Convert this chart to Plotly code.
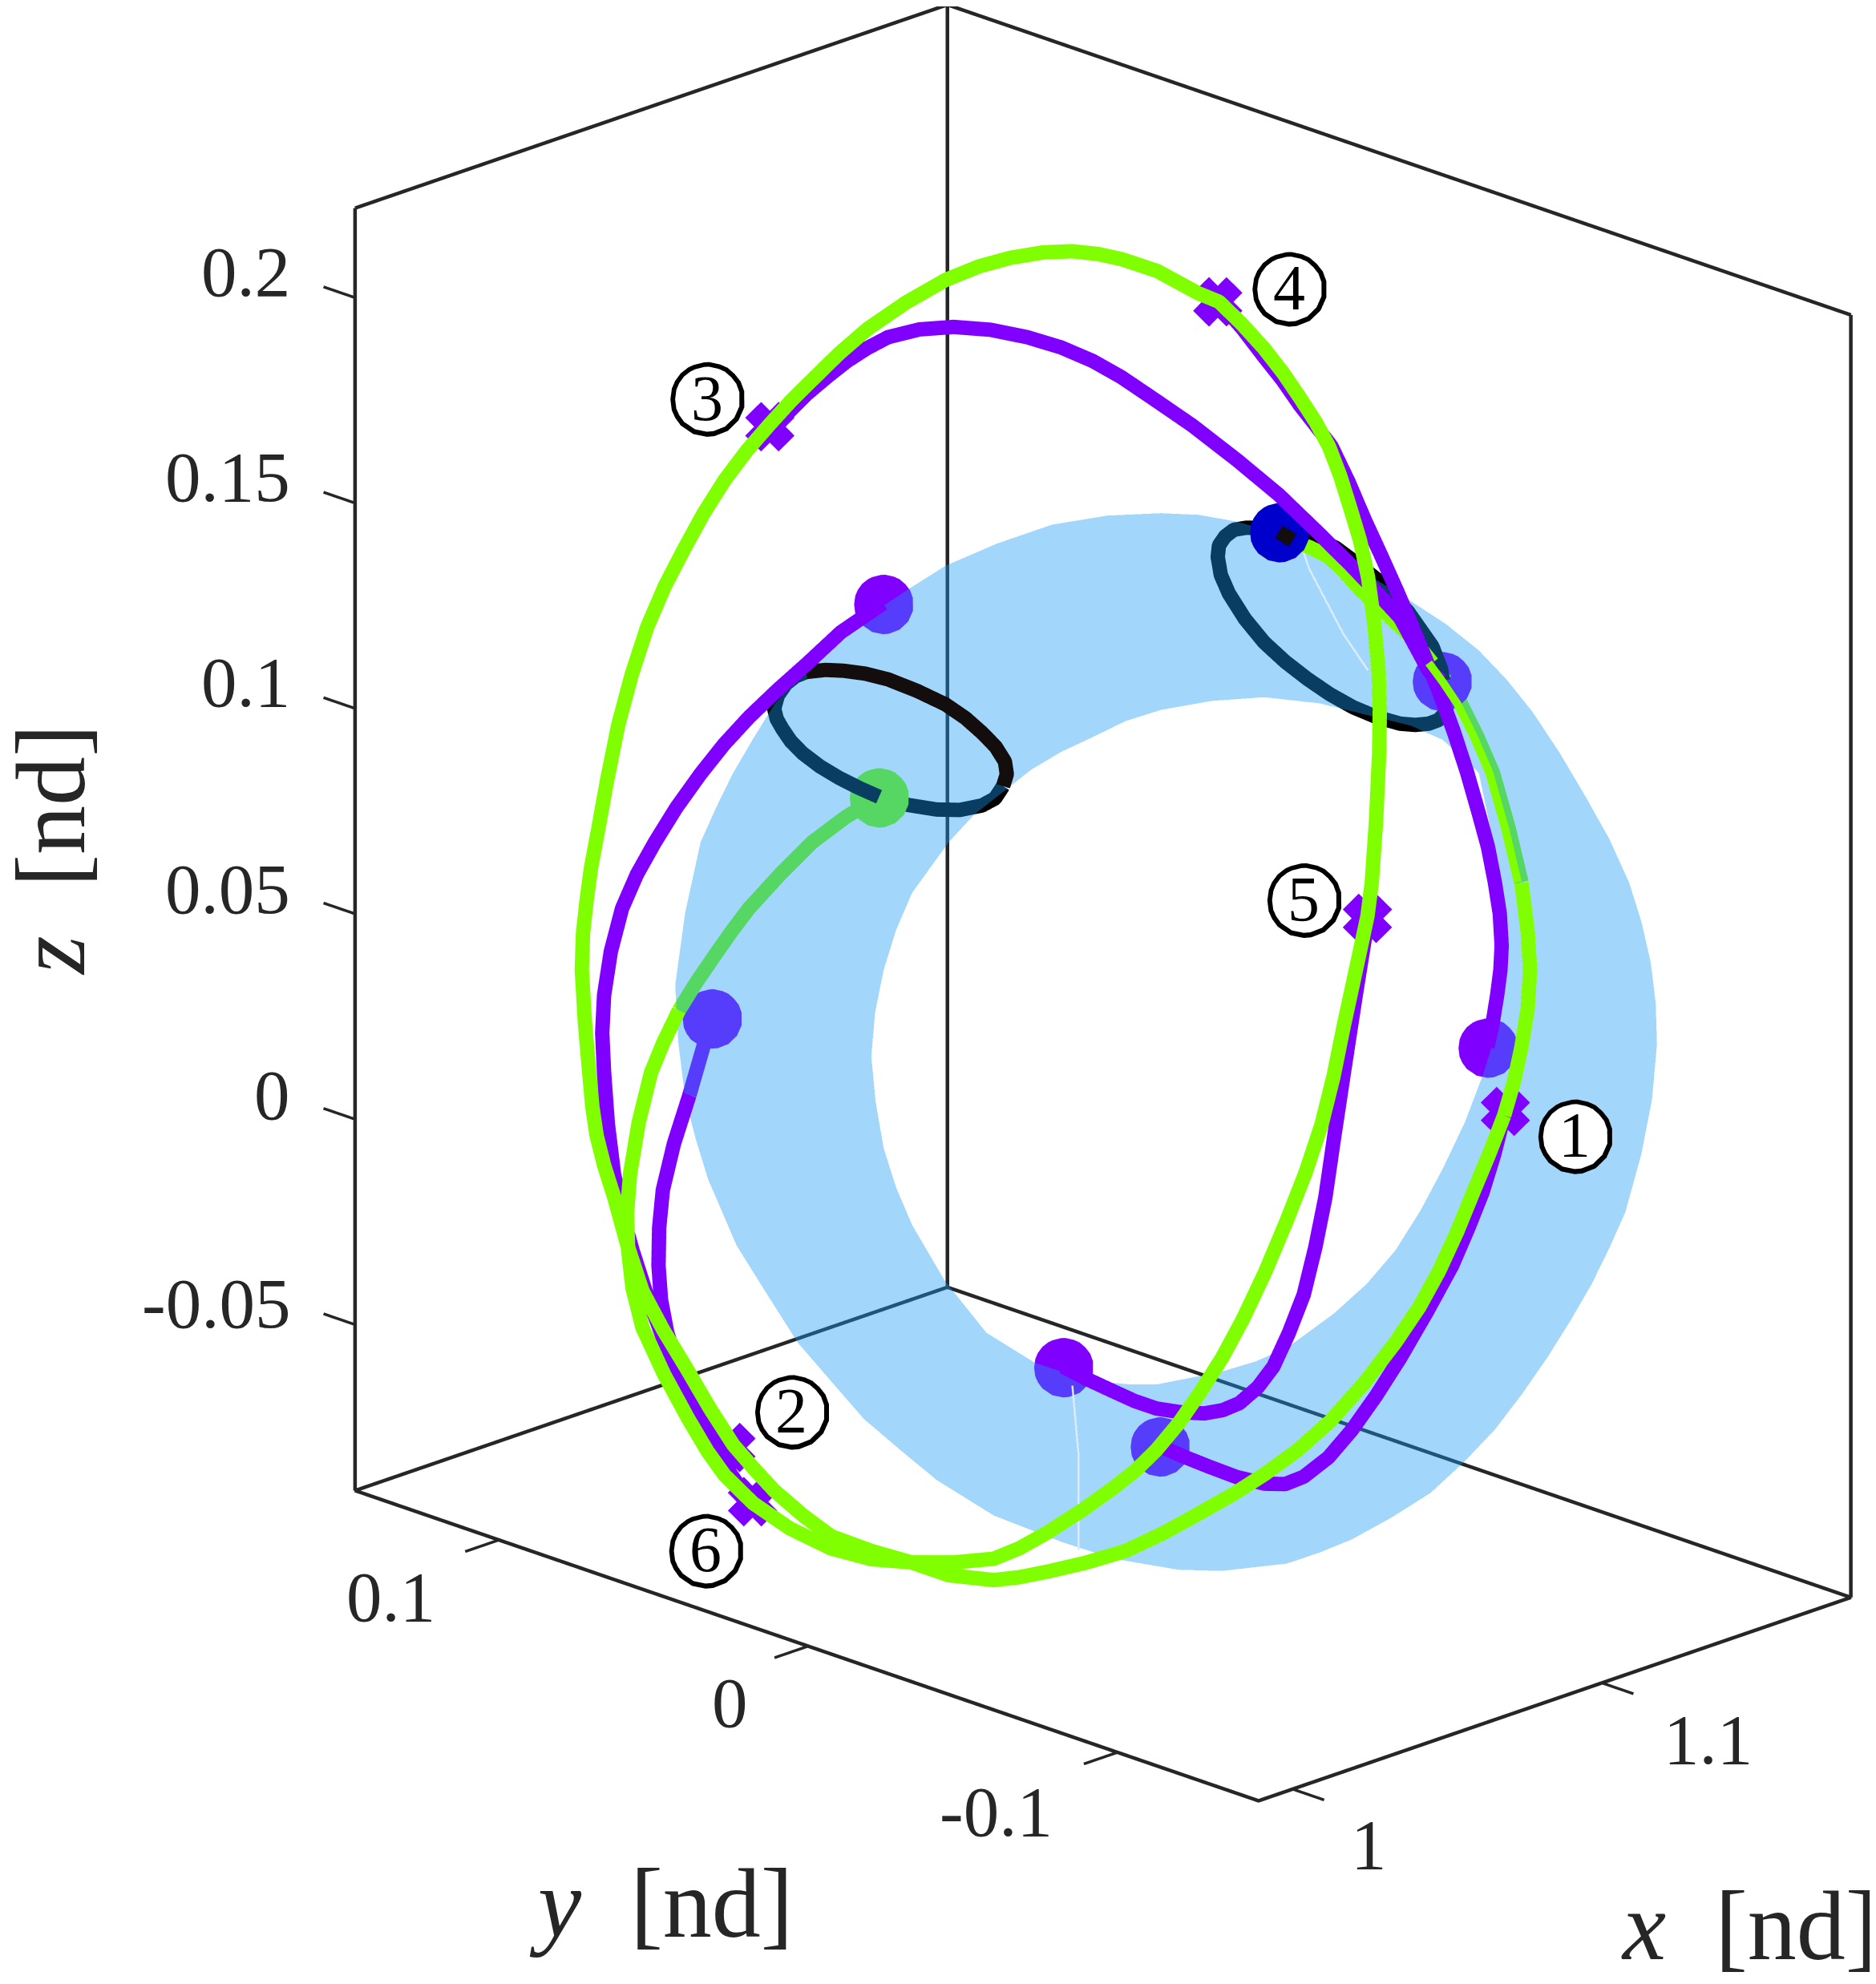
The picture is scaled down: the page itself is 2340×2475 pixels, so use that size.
import plotly.graph_objects as go

# ---- axis box limits and ticks
x_lim = [0.989, 1.1805]
y_lim = [-0.1456, 0.1465]
z_lim = [-0.0904, 0.2218]
x_ticks = [1.0, 1.1]
y_ticks = [0.1, 0.0, -0.1]
z_ticks = [-0.05, 0.0, 0.05, 0.1, 0.15, 0.2]
x_tick_labels = ["1", "1.1"]
y_tick_labels = ["0.1", "0", "-0.1"]
z_tick_labels = ["-0.05", "0", "0.05", "0.1", "0.15", "0.2"]
x_tick_len = 0.0102
y_tick_len = 0.0109
z_tick_len = 0.0102

# tick label anchor points
xl_x = [1.0851, 1.1399]; xl_y = [-0.0851, -0.1399]; xl_z = [-0.1416, -0.1159]
yl_x = [0.927, 0.9818, 1.0249]; yl_y = [0.073, 0.0182, -0.0249]; yl_z = [-0.0812, -0.1070, -0.1335]
zl_x = [0.911] * 6; zl_y = [0.089] * 6; zl_z = [-0.0098, 0.0409, 0.0910, 0.1415, 0.1914, 0.2414]

# ---- green transfer, cross 1 through to the final ring
green_x = [1.1270,1.1246,1.1220,1.1194,1.1165,1.1133,1.1094,1.1044,1.0989,1.0936,1.0883,1.0832,1.0779,1.0720,1.0658,1.0593,1.0533,1.0486,1.0445,1.0372,1.0312,1.0247,1.0182,1.0137,1.0090,1.0058,1.0024,0.9986,0.9948,0.9911,0.9877,0.9852,0.9832,0.9815,0.9803,0.9796,0.9791,0.9784,0.9779,0.9781,0.9787,0.9794,0.9805,0.9820,0.9838,0.9860,0.9885,0.9913,0.9944,0.9976,1.0010,1.0046,1.0083,1.0118,1.0155,1.0195,1.0241,1.0303,1.0367,1.0421,1.0472,1.0524,1.0572,1.0614,1.0651,1.0709,1.0775,1.0809,1.0844,1.0882,1.0913,1.0940,1.0965,1.0987,1.1005,1.1021,1.1037,1.1050,1.1060,1.1067,1.1069,1.1068,1.1063,1.1056,1.1049,1.1031,1.1010,1.0994,1.0975,1.0949,1.0918,1.0884,1.0848,1.0814,1.0779,1.0744,1.0708,1.0675,1.0638,1.0587,1.0533,1.0487,1.0445,1.0380,1.0313,1.0247,1.0182,1.0115,1.0056,1.0010,0.9982,0.9951,0.9912,0.9877,0.9861,0.9854,0.9852,0.9857,0.9871,0.9891,0.9911,0.9936]
green_y = [-0.0870,-0.0846,-0.0820,-0.0794,-0.0765,-0.0733,-0.0694,-0.0644,-0.0589,-0.0536,-0.0483,-0.0432,-0.0379,-0.0320,-0.0258,-0.0193,-0.0133,-0.0086,-0.0045,0.0028,0.0088,0.0153,0.0218,0.0263,0.0310,0.0342,0.0376,0.0414,0.0452,0.0489,0.0523,0.0548,0.0568,0.0585,0.0597,0.0604,0.0609,0.0616,0.0621,0.0619,0.0613,0.0606,0.0595,0.0580,0.0562,0.0540,0.0515,0.0487,0.0456,0.0424,0.0390,0.0354,0.0317,0.0282,0.0245,0.0205,0.0159,0.0097,0.0033,-0.0021,-0.0072,-0.0124,-0.0172,-0.0214,-0.0251,-0.0309,-0.0375,-0.0409,-0.0444,-0.0482,-0.0513,-0.0540,-0.0565,-0.0587,-0.0605,-0.0621,-0.0637,-0.0650,-0.0660,-0.0667,-0.0669,-0.0668,-0.0663,-0.0656,-0.0649,-0.0631,-0.0610,-0.0594,-0.0575,-0.0549,-0.0518,-0.0484,-0.0448,-0.0414,-0.0379,-0.0344,-0.0308,-0.0275,-0.0238,-0.0187,-0.0133,-0.0087,-0.0045,0.0020,0.0087,0.0153,0.0218,0.0285,0.0344,0.0390,0.0418,0.0449,0.0488,0.0523,0.0539,0.0546,0.0548,0.0543,0.0529,0.0509,0.0489,0.0464]
green_z = [0.0256,0.0163,0.0069,-0.0027,-0.0122,-0.0210,-0.0297,-0.0395,-0.0488,-0.0559,-0.0617,-0.0666,-0.0711,-0.0760,-0.0804,-0.0833,-0.0854,-0.0868,-0.0875,-0.0863,-0.0832,-0.0804,-0.0768,-0.0718,-0.0657,-0.0605,-0.0546,-0.0457,-0.0359,-0.0267,-0.0171,-0.0056,0.0054,0.0135,0.0207,0.0278,0.0361,0.0484,0.0610,0.0701,0.0782,0.0860,0.0948,0.1073,0.1207,0.1331,0.1446,0.1544,0.1634,0.1722,0.1803,0.1875,0.1939,0.1997,0.2052,0.2111,0.2171,0.2235,0.2290,0.2323,0.2344,0.2357,0.2360,0.2353,0.2341,0.2312,0.2258,0.2237,0.2186,0.2123,0.2063,0.2003,0.1945,0.1884,0.1813,0.1736,0.1656,0.1566,0.1454,0.1339,0.1245,0.1139,0.0974,0.0823,0.0741,0.0615,0.0469,0.0350,0.0235,0.0117,-0.0002,-0.0124,-0.0239,-0.0334,-0.0417,-0.0493,-0.0558,-0.0607,-0.0651,-0.0706,-0.0758,-0.0797,-0.0823,-0.0832,-0.0832,-0.0824,-0.0798,-0.0749,-0.0688,-0.0620,-0.0561,-0.0482,-0.0374,-0.0260,-0.0164,-0.0073,0.0016,0.0113,0.0239,0.0361,0.0434,0.0512]

# green end, seen through the blue band
green_end_x = [1.0336,1.0364,1.0393,1.0421,1.0449,1.0500,1.0551,1.0605,1.0659]
green_end_y = [0.0864,0.0836,0.0807,0.0779,0.0751,0.0700,0.0649,0.0595,0.0541]
green_end_z = [0.0305,0.0373,0.0437,0.0497,0.0553,0.0637,0.0714,0.0775,0.0825]

# green start, from the blue dot to cross 1
green_a1_x = [1.1128,1.1157,1.1187,1.1212,1.1238,1.1273,1.1308,1.1332,1.1354]
green_a1_y = [-0.0328,-0.0357,-0.0387,-0.0412,-0.0438,-0.0473,-0.0508,-0.0532,-0.0554]
green_a1_z = [0.1552,0.1535,0.1512,0.1475,0.1432,0.1383,0.1334,0.1295,0.1254]
green_a2_x = [1.1554,1.1577,1.1600,1.1627,1.1652,1.1677,1.1698]
green_a2_y = [-0.0354,-0.0377,-0.0400,-0.0427,-0.0452,-0.0477,-0.0498]
green_a2_z = [0.1151,0.1104,0.1052,0.0970,0.0883,0.0750,0.0617]
# bright sliver lying over the muted part
green_a2b_x = [1.1148,1.1171,1.1194,1.1221,1.1246,1.1271,1.1292]
green_a2b_y = [-0.0748,-0.0771,-0.0794,-0.0821,-0.0846,-0.0871,-0.0892]
green_a2b_z = [0.1358,0.1311,0.1259,0.1177,0.1090,0.0957,0.0824]
green_a3_x = [1.1298,1.1308,1.1312,1.1308,1.1298,1.1286,1.1270]
green_a3_y = [-0.0898,-0.0908,-0.0912,-0.0908,-0.0898,-0.0886,-0.0870]
green_a3_z = [0.0823,0.0705,0.0610,0.0515,0.0423,0.0339,0.0256]

# ---- purple arcs (None separates arcs)
purple_x = [1.0366,1.0298,1.0243,1.0196,1.0150,1.0109,1.0071,1.0032,0.9997,0.9968,0.9944,0.9926,0.9915,0.9912,0.9915,0.9921,0.9931,0.9944,0.9961,0.9984,1.0010,1.0036,1.0063,1.0091,1.0120, None,
            1.0053,1.0028,1.0010,1.0004,1.0003,1.0007,1.0017,1.0038,1.0063,1.0087,1.0110,1.0133,1.0156, None,
            1.0657,1.0698,1.0738,1.0773,1.0808,1.0847,1.0885,1.0915,1.0942,1.0972,1.0997,1.1022,1.1046,1.1065,1.1081,1.1095,1.1110,1.1129,1.1149, None,
            1.0813,1.0852,1.0892,1.0938,1.0983,1.1016,1.1046,1.1086,1.1124,1.1163,1.1202,1.1245,1.1286,1.1312,1.1335,1.1354,1.1370, None,
            1.1343,1.1352,1.1359,1.1364,1.1366,1.1363,1.1355,1.1344,1.1329,1.1310,1.1289,1.1267,1.1243,1.1220,1.1196,1.1171,1.1145,1.1119,1.1091,1.1066,1.1040,1.1012,1.0982,1.0947,1.0909, None,
            1.1269,1.1248,1.1202,1.1164,1.1121,1.1066,1.1006,1.0938,1.0866,1.0808,1.0751,1.0705,1.0654,1.0599,1.0540,1.0480,1.0425,1.0374,1.0340,1.0308,1.0276,1.0243,1.0202,1.0183]
purple_y = [0.0234,0.0302,0.0357,0.0404,0.0450,0.0491,0.0529,0.0568,0.0603,0.0632,0.0656,0.0674,0.0685,0.0688,0.0685,0.0679,0.0669,0.0656,0.0639,0.0616,0.0590,0.0564,0.0537,0.0509,0.0480, None,
            0.0547,0.0572,0.0590,0.0596,0.0597,0.0593,0.0583,0.0562,0.0537,0.0513,0.0490,0.0467,0.0444, None,
            -0.0057,-0.0098,-0.0138,-0.0173,-0.0208,-0.0247,-0.0285,-0.0315,-0.0342,-0.0372,-0.0397,-0.0422,-0.0446,-0.0465,-0.0481,-0.0495,-0.0510,-0.0529,-0.0549, None,
            -0.0213,-0.0252,-0.0292,-0.0338,-0.0383,-0.0416,-0.0446,-0.0486,-0.0524,-0.0563,-0.0602,-0.0645,-0.0686,-0.0712,-0.0735,-0.0754,-0.0770, None,
            -0.0743,-0.0752,-0.0759,-0.0764,-0.0766,-0.0763,-0.0755,-0.0744,-0.0729,-0.0710,-0.0689,-0.0667,-0.0643,-0.0620,-0.0596,-0.0571,-0.0545,-0.0519,-0.0491,-0.0466,-0.0440,-0.0412,-0.0382,-0.0347,-0.0309, None,
            -0.0669,-0.0648,-0.0602,-0.0564,-0.0521,-0.0466,-0.0406,-0.0338,-0.0266,-0.0208,-0.0151,-0.0105,-0.0054,0.0001,0.0060,0.0120,0.0175,0.0226,0.0260,0.0292,0.0324,0.0357,0.0398,0.0417]
purple_z = [0.1451,0.1381,0.1304,0.1241,0.1175,0.1108,0.1036,0.0954,0.0869,0.0791,0.0708,0.0604,0.0497,0.0405,0.0309,0.0185,0.0062,-0.0033,-0.0124,-0.0232,-0.0336,-0.0423,-0.0496,-0.0552,-0.0598, None,
            0.0254,0.0136,0.0023,-0.0070,-0.0161,-0.0244,-0.0324,-0.0420,-0.0509,-0.0582,-0.0647,-0.0697,-0.0739, None,
            -0.0407,-0.0439,-0.0467,-0.0491,-0.0509,-0.0518,-0.0521,-0.0513,-0.0496,-0.0457,-0.0407,-0.0325,-0.0232,-0.0115,0.0005,0.0150,0.0300,0.0487,0.0675, None,
            -0.0600,-0.0626,-0.0650,-0.0676,-0.0692,-0.0693,-0.0675,-0.0628,-0.0561,-0.0478,-0.0386,-0.0274,-0.0161,-0.0070,0.0017,0.0110,0.0205, None,
            0.0371,0.0435,0.0500,0.0559,0.0618,0.0695,0.0772,0.0857,0.0940,0.1040,0.1137,0.1227,0.1316,0.1400,0.1484,0.1568,0.1653,0.1745,0.1833,0.1883,0.1933,0.1994,0.2051,0.2120,0.2185, None,
            0.1263,0.1287,0.1416,0.1478,0.1546,0.1628,0.1715,0.1800,0.1884,0.1944,0.2002,0.2041,0.2074,0.2099,0.2117,0.2124,0.2118,0.2099,0.2072,0.2041,0.2003,0.1961,0.1899,0.1887]
# purple start seen through the band
purple_end_x = [1.0389, 1.0353]
purple_end_y = [0.0811, 0.0847]
purple_end_z = [0.0287, 0.0099]

# ---- dots
dot_x = [1.0666, 1.0389, 1.0957, 1.1113, 1.1569, 1.1643]
dot_y = [0.0534, 0.0811, 0.0243, 0.0087, -0.0369, -0.0443]
dot_z = [0.1296, 0.0287, -0.0562, -0.0755, 0.1108, 0.0216]
green_dot = [1.0659, 0.0541, 0.0825]
blue_dot = [1.1106, -0.0306, 0.1574]

# ---- crosses
cross_x = [1.1322, 1.0070, 1.0133, 1.0857, 1.1099, 1.0105]
cross_y = [-0.0822, 0.0430, 0.0367, -0.0357, -0.0599, 0.0395]
cross_z = [0.0240, -0.0578, 0.1907, 0.2211, 0.0710, -0.0710]

# ---- circled labels: black disc, white disc just in front of it
mark_text = ["1", "2", "3", "4", "5", "6"]
mark_x = [1.1184, 0.9918, 0.9781, 1.0722, 1.0746, 0.9779]
mark_y = [-0.1184, 0.0082, 0.0219, -0.0722, -0.0746, 0.0221]
mark_z = [0.0311, -0.0360, 0.2106, 0.2374, 0.0886, -0.0698]
mark_face_x = [1.1134, 0.9868, 0.9731, 1.0672, 1.0696, 0.9729]
mark_face_y = [-0.1234, 0.0032, 0.0169, -0.0772, -0.0796, 0.0171]
mark_face_z = [0.0337, -0.0334, 0.2132, 0.2400, 0.0912, -0.0672]

# ---- black rings
ring_front_x = [1.0242,1.0273,1.0302,1.0337,1.0374,1.0421,1.0467,1.0499,1.0526,1.0548,1.0563,1.0566,1.0560, None, 1.1006,1.1028]
ring_front_y = [0.0358,0.0327,0.0298,0.0263,0.0226,0.0179,0.0133,0.0101,0.0074,0.0052,0.0037,0.0034,0.0040, None, -0.0406,-0.0428]
ring_front_z = [0.1284,0.1289,0.1287,0.1280,0.1266,0.1238,0.1205,0.1172,0.1136,0.1102,0.1066,0.1035,0.1006, None, 0.1625,0.1604]
ring_back_x = [1.0860,1.0847,1.0826,1.0790,1.0753,1.0707,1.0661,1.0628,1.0595,1.0564,1.0536,1.0517,1.0503,1.0494,1.0490,1.0496,1.0509,1.0524,1.0542, None,
               1.1306,1.1280,1.1253,1.1233,1.1219,1.1209,1.1207,1.1212,1.1225,1.1251,1.1282,1.1316,1.1352,1.1388,1.1426,1.1464,1.1502,1.1526,1.1548,1.1564,1.1574,1.1579,1.1574,1.1568,1.1554,1.1514,1.1467,1.1432,1.1398,1.1365,1.1334,1.1306]
ring_back_y = [0.0340,0.0353,0.0374,0.0410,0.0447,0.0493,0.0539,0.0572,0.0605,0.0636,0.0664,0.0683,0.0697,0.0706,0.0710,0.0704,0.0691,0.0676,0.0658, None,
               -0.0106,-0.0080,-0.0053,-0.0033,-0.0019,-0.0009,-0.0007,-0.0012,-0.0025,-0.0051,-0.0082,-0.0116,-0.0152,-0.0188,-0.0226,-0.0264,-0.0302,-0.0326,-0.0348,-0.0364,-0.0374,-0.0379,-0.0374,-0.0368,-0.0354,-0.0314,-0.0267,-0.0232,-0.0198,-0.0165,-0.0134,-0.0106]
ring_back_z = [0.0851,0.0821,0.0804,0.0793,0.0794,0.0805,0.0824,0.0846,0.0871,0.0899,0.0931,0.0960,0.0991,0.1015,0.1040,0.1072,0.1100,0.1118,0.1129, None,
               0.1470,0.1480,0.1480,0.1475,0.1459,0.1437,0.1409,0.1365,0.1320,0.1258,0.1201,0.1154,0.1112,0.1075,0.1043,0.1019,0.1003,0.1000,0.1003,0.1012,0.1028,0.1053,0.1082,0.1136,0.1191,0.1277,0.1351,0.1393,0.1431,0.1455,0.1470,0.1470]

# ---- blue band, outer and inner edges
band_outer_x = [1.0965,1.1026,1.1086,1.1150,1.1215,1.1294,1.1369,1.1426,1.1479,1.1524,1.1566,1.1610,1.1652,1.1690,1.1722,1.1742,1.1757,1.1765,1.1767,1.1759,1.1742,1.1716,1.1690,1.1661,1.1627,1.1590,1.1549,1.1505,1.1455,1.1401,1.1339,1.1274,1.1222,1.1169,1.1063,1.0993,1.0888,1.0804,1.0695,1.0603,1.0545,1.0485,1.0433,1.0378,1.0327,1.0279,1.0233,1.0213,1.0196,1.0185,1.0180,1.0196,1.0221,1.0246,1.0273,1.0306,1.0340,1.0388,1.0438,1.0497,1.0556,1.0617,1.0700,1.0789,1.0878]
band_outer_y = [-0.0065,-0.0126,-0.0186,-0.0250,-0.0315,-0.0394,-0.0469,-0.0526,-0.0579,-0.0624,-0.0666,-0.0710,-0.0752,-0.0790,-0.0822,-0.0842,-0.0857,-0.0865,-0.0867,-0.0859,-0.0842,-0.0816,-0.0790,-0.0761,-0.0727,-0.0690,-0.0649,-0.0605,-0.0555,-0.0501,-0.0439,-0.0374,-0.0322,-0.0269,-0.0163,-0.0093,0.0012,0.0096,0.0205,0.0297,0.0355,0.0415,0.0467,0.0522,0.0573,0.0621,0.0667,0.0687,0.0704,0.0715,0.0720,0.0704,0.0679,0.0654,0.0627,0.0594,0.0560,0.0512,0.0462,0.0403,0.0344,0.0283,0.0200,0.0111,0.0022]
band_outer_z = [0.1593,0.1589,0.1573,0.1546,0.1508,0.1449,0.1379,0.1323,0.1259,0.1188,0.1109,0.1009,0.0902,0.0800,0.0694,0.0598,0.0499,0.0400,0.0300,0.0166,0.0034,-0.0108,-0.0196,-0.0285,-0.0373,-0.0462,-0.0551,-0.0638,-0.0717,-0.0792,-0.0851,-0.0905,-0.0937,-0.0964,-0.0982,-0.0979,-0.0952,-0.0911,-0.0847,-0.0761,-0.0689,-0.0612,-0.0522,-0.0426,-0.0305,-0.0189,-0.0028,0.0070,0.0170,0.0305,0.0444,0.0620,0.0792,0.0876,0.0959,0.1044,0.1127,0.1208,0.1284,0.1348,0.1407,0.1465,0.1519,0.1565,0.1587]
band_inner_x = [1.0965,1.1047,1.1132,1.1222,1.1306,1.1369,1.1421,1.1479,1.1498,1.1507,1.1518,1.1522,1.1511,1.1485,1.1457,1.1421,1.1385,1.1344,1.1298,1.1245,1.1169,1.1118,1.1063,1.0958,1.0916,1.0873,1.0817,1.0761,1.0683,1.0616,1.0563,1.0537,1.0517,1.0504,1.0497,1.0503,1.0517,1.0537,1.0563,1.0622,1.0663,1.0756,1.0804,1.0855,1.0908]
band_inner_y = [-0.0065,-0.0147,-0.0232,-0.0322,-0.0406,-0.0469,-0.0521,-0.0579,-0.0598,-0.0607,-0.0618,-0.0622,-0.0611,-0.0585,-0.0557,-0.0521,-0.0485,-0.0444,-0.0398,-0.0345,-0.0269,-0.0218,-0.0163,-0.0058,-0.0016,0.0027,0.0083,0.0139,0.0217,0.0284,0.0337,0.0363,0.0383,0.0396,0.0403,0.0397,0.0383,0.0363,0.0337,0.0278,0.0237,0.0144,0.0096,0.0045,-0.0008]
band_inner_z = [0.1114,0.1136,0.1145,0.1130,0.1099,0.1076,0.1041,0.0961,0.0825,0.0694,0.0595,0.0499,0.0346,0.0223,0.0112,-0.0002,-0.0104,-0.0202,-0.0283,-0.0355,-0.0439,-0.0472,-0.0497,-0.0528,-0.0528,-0.0522,-0.0503,-0.0475,-0.0402,-0.0276,-0.0140,-0.0048,0.0047,0.0160,0.0270,0.0377,0.0481,0.0578,0.0669,0.0792,0.0859,0.0969,0.1012,0.1048,0.1087]

# ---- faint seams in the band
seam_x = [1.0772,1.0782,1.0782,1.0782, None, 1.1146,1.1155,1.1210,1.1250]
seam_y = [0.0028,0.0018,0.0018,0.0018, None, -0.0346,-0.0355,-0.0410,-0.0450]
seam_z = [-0.0505,-0.0674,-0.0797,-0.0905, None, 0.1523,0.1483,0.1325,0.1236]

INK = "#262626"
PURPLE = "#7f00ff"
GREEN = "#7fff00"
SERIF = "Liberation Serif"
CROSS_HALF_XY = 0.0027
CROSS_HALF_Z = 0.0041

fig = go.Figure()


def line(xs, ys, zs, color, width):
    fig.add_trace(go.Scatter3d(x=xs, y=ys, z=zs, mode="lines", showlegend=False, hoverinfo="skip",
                               line=dict(color=color, width=width)))


def dots(xs, ys, zs, color, size):
    fig.add_trace(go.Scatter3d(x=xs, y=ys, z=zs, mode="markers", showlegend=False, hoverinfo="skip",
                               marker=dict(color=color, size=size, symbol="circle")))


# box
x0, x1 = x_lim; y0, y1 = y_lim; z0, z1 = z_lim
line([x1, x0, x0, x1, x1, None, x0, x0, None, x1, x1, None, x1, x1, None, x0, x1, x1],
     [y1, y1, y0, y0, y1, None, y1, y1, None, y1, y1, None, y0, y0, None, y1, y1, y0],
     [z0, z0, z0, z0, z0, None, z0, z1, None, z0, z1, None, z0, z1, None, z1, z1, z1], INK, 9)
# ticks
tx, ty, tz = [], [], []
for v in x_ticks:
    tx += [v, v, None]; ty += [y0, y0 - x_tick_len, None]; tz += [z0, z0, None]
for v in y_ticks:
    tx += [x0, x0 - y_tick_len, None]; ty += [v, v, None]; tz += [z0, z0, None]
for v in z_ticks:
    tx += [x0, x0, None]; ty += [y1, y1 + z_tick_len, None]; tz += [v, v, None]
line(tx, ty, tz, INK, 7)

# band
n, m = len(band_outer_x), len(band_inner_x)
ti, tj, tk = [], [], []
a, b = 0, 0
while a < n or b < m:
    if b >= m or (a < n and (a + 1) / n <= (b + 1) / m):
        ti.append(a % n); tj.append((a + 1) % n); tk.append(n + b % m); a += 1
    else:
        ti.append(a % n); tj.append(n + (b + 1) % m); tk.append(n + b % m); b += 1
fig.add_trace(go.Mesh3d(x=band_outer_x + band_inner_x, y=band_outer_y + band_inner_y, z=band_outer_z + band_inner_z,
                        i=ti, j=tj, k=tk, color="#1998f5", opacity=0.4, flatshading=True, hoverinfo="skip",
                        lighting=dict(ambient=1, diffuse=0, specular=0, fresnel=0, roughness=1), showscale=False))
line(seam_x, seam_y, seam_z, "#d8ecfd", 5)

# rings
line(ring_back_x, ring_back_y, ring_back_z, "#000000", 36)
line(ring_front_x, ring_front_y, ring_front_z, "#140d0d", 36)

# dots
dots(dot_x, dot_y, dot_z, PURPLE, 43)
dots([green_dot[0]], [green_dot[1]], [green_dot[2]], GREEN, 43)
dots([blue_dot[0]], [blue_dot[1]], [blue_dot[2]], "#0000cd", 43)

# curves
line(purple_end_x, purple_end_y, purple_end_z, PURPLE, 36)
line(purple_x, purple_y, purple_z, PURPLE, 36)
line(green_end_x, green_end_y, green_end_z, GREEN, 36)
line(green_a1_x, green_a1_y, green_a1_z, GREEN, 36)
line(green_a2_x, green_a2_y, green_a2_z, GREEN, 36)
line(green_a2b_x, green_a2b_y, green_a2b_z, GREEN, 20)
line(green_a3_x, green_a3_y, green_a3_z, GREEN, 36)
line(green_x, green_y, green_z, GREEN, 36)

# crosses, two short thick arms each
cx_, cy_, cz_ = [], [], []
for px, py, pz in zip(cross_x, cross_y, cross_z):
    cx_ += [px - CROSS_HALF_XY, px + CROSS_HALF_XY, None, px - CROSS_HALF_XY, px + CROSS_HALF_XY, None]
    cy_ += [py + CROSS_HALF_XY, py - CROSS_HALF_XY, None, py + CROSS_HALF_XY, py - CROSS_HALF_XY, None]
    cz_ += [pz - CROSS_HALF_Z, pz + CROSS_HALF_Z, None, pz + CROSS_HALF_Z, pz - CROSS_HALF_Z, None]
line(cx_, cy_, cz_, PURPLE, 56)

# numbered markers
dots(mark_x, mark_y, mark_z, "#000000", 54)
dots(mark_face_x, mark_face_y, mark_face_z, "#ffffff", 47)

ann3d = []
for xs, ys, zs, texts, anchor in [(xl_x, xl_y, xl_z, x_tick_labels, "center"),
                                  (yl_x, yl_y, yl_z, y_tick_labels, "center"),
                                  (zl_x, zl_y, zl_z, z_tick_labels, "right")]:
    for a_, b_, c_, t_ in zip(xs, ys, zs, texts):
        ann3d.append(dict(x=a_, y=b_, z=c_, text=t_, showarrow=False, xanchor=anchor, yanchor="middle",
                          font=dict(family=SERIF, size=89, color=INK)))
for a_, b_, c_, t_ in zip(mark_x, mark_y, mark_z, mark_text):
    ann3d.append(dict(x=a_, y=b_, z=c_, text=t_, showarrow=False, xanchor="center", yanchor="middle",
                      font=dict(family=SERIF, size=80, color="#000000")))

title_font = dict(family=SERIF, size=122, color=INK)
fig.update_layout(
    width=2340, height=2475, margin=dict(l=0, r=0, t=0, b=0), paper_bgcolor="white",
    showlegend=False, hovermode=False,
    scene=dict(
        domain=dict(x=[0, 1], y=[0, 1]),
        bgcolor="white",
        xaxis=dict(visible=False, range=[0.85, 1.25]),
        yaxis=dict(visible=False, range=[-0.2, 0.2]),
        zaxis=dict(visible=False, range=[-0.2, 0.32]),
        aspectmode="manual",
        aspectratio=dict(x=1.7636, y=1.7636, z=2.2927),
        camera=dict(projection=dict(type="orthographic"),
                    up=dict(x=0, y=0, z=1),
                    center=dict(x=-0.0459, y=0.0289, z=-0.0330),
                    eye=dict(x=-2.9759, y=-2.9011, z=1.482)),
        annotations=ann3d,
    ),
    annotations=[
        dict(xref="paper", yref="paper", x=0.9290, y=0.0325, text="<i>x</i>\u2002[nd]", showarrow=False,
             xanchor="center", yanchor="middle", font=title_font),
        dict(xref="paper", yref="paper", x=0.3490, y=0.0440, text="<i>y</i>\u2002[nd]", showarrow=False,
             xanchor="center", yanchor="middle", font=title_font),
        dict(xref="paper", yref="paper", x=0.0240, y=0.5750, text="<i>z</i>\u2002[nd]", showarrow=False,
             textangle=-90, xanchor="center", yanchor="middle", font=title_font),
    ],
)
fig.write_html("out.html")
